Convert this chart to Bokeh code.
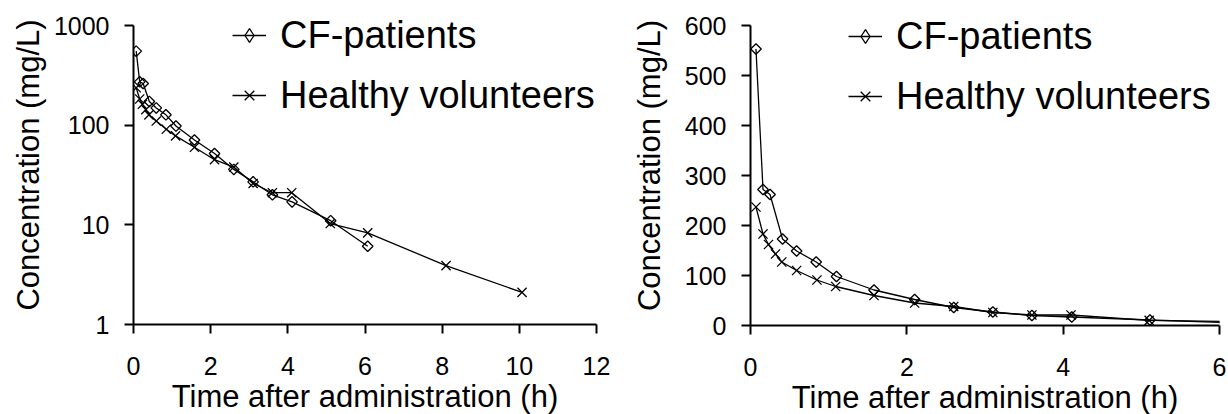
import math
from bokeh.plotting import figure
from bokeh.layouts import row
from bokeh.models import Legend, LegendItem, FixedTicker, Range1d
from bokeh.embed import file_html
from bokeh.resources import INLINE

# Data
cf_time = [0.07, 0.16, 0.25, 0.41, 0.59, 0.84, 1.10, 1.58, 2.10, 2.60, 3.10, 3.60, 4.11, 5.11, 6.07]
cf_conc = [553, 272, 262, 173, 149, 127, 98, 71, 52, 36, 27, 20, 17, 11, 6.1]

hv_time = [0.07, 0.16, 0.23, 0.32, 0.40, 0.59, 0.85, 1.09, 1.58, 2.10, 2.60, 3.10, 3.60, 4.10, 5.10, 6.07, 8.10, 10.07]
hv_conc = [237, 183, 162, 143, 127, 110, 91, 78, 60, 45, 38, 26, 21, 21, 10.3, 8.3, 3.9, 2.1]

cf_label = "CF-patients"
hv_label = "Healthy volunteers"
x_title = "Time after administration (h)"
y_title = "Concentration (mg/L)"

left_xticks = [0, 2, 4, 6, 8, 10, 12]
left_yticks = [1, 10, 100, 1000]
right_xticks = [0, 2, 4, 6]
right_yticks = [0, 100, 200, 300, 400, 500, 600]

FONT = "Liberation Sans"


def style(p, ylabel_standoff):
    p.xgrid.visible = False
    p.ygrid.visible = False
    p.outline_line_color = None
    p.background_fill_color = "white"
    p.border_fill_color = "white"
    for ax in (p.xaxis[0], p.yaxis[0]):
        ax.axis_line_width = 2
        ax.axis_line_color = "black"
        ax.major_tick_line_width = 2
        ax.major_tick_line_color = "black"
        ax.major_tick_out = 9
        ax.major_tick_in = 0
        ax.minor_tick_line_color = None
        ax.major_label_text_font = FONT
        ax.major_label_text_font_size = "25px"
        ax.major_label_text_color = "black"
        ax.axis_label_text_font = FONT
        ax.axis_label_text_font_size = "31px"
        ax.axis_label_text_font_style = "normal"
        ax.axis_label_text_color = "black"
    p.xaxis[0].major_label_standoff = 23
    p.xaxis[0].axis_label_standoff = 1
    p.yaxis[0].major_label_standoff = 15
    p.yaxis[0].axis_label_standoff = ylabel_standoff
    p.xaxis[0].axis_label = x_title
    p.yaxis[0].axis_label = y_title


def add_series(p, loc):
    l1 = p.line(cf_time, cf_conc, line_color="black", line_width=1.3)
    p.scatter(cf_time, cf_conc, marker="square", angle=math.pi / 4, size=7.5,
              line_color="black", line_width=1.3, fill_alpha=0)
    l2 = p.line(hv_time, hv_conc, line_color="black", line_width=1.3)
    m2 = p.scatter(hv_time, hv_conc, marker="x", size=13, line_color="black", line_width=1.3)
    # hidden diamond renderer used only for the legend symbol
    mg1 = p.scatter(cf_time, cf_conc, marker="diamond", size=13, line_color="black",
                    line_width=1.3, fill_alpha=0, visible=False)
    legend = Legend(items=[LegendItem(label=cf_label, renderers=[l1, mg1]),
                           LegendItem(label=hv_label, renderers=[l2, m2])],
                    location=loc)
    legend.inactive_fill_alpha = 0
    legend.label_text_font = FONT
    legend.label_text_font_size = "38px"
    legend.label_text_color = "black"
    legend.glyph_width = 34
    legend.glyph_height = 46
    legend.label_height = 46
    legend.label_standoff = 14
    legend.spacing = 14
    legend.padding = 0
    legend.margin = 0
    legend.border_line_color = None
    legend.background_fill_alpha = 0
    legend.click_policy = "none"
    p.add_layout(legend)


# left: log scale; frame extends 20px above the 1000 tick so the legend is not clipped
p1 = figure(frame_width=463, frame_height=319, x_range=Range1d(0, 12),
            y_range=Range1d(1, 10 ** (3 * 319 / 299)), y_axis_type="log",
            min_border_left=133, min_border_right=16, min_border_top=5,
            min_border_bottom=90, output_backend="svg", toolbar_location=None)
style(p1, 5)
p1.xaxis[0].ticker = FixedTicker(ticks=left_xticks)
p1.yaxis[0].ticker = FixedTicker(ticks=left_yticks)
p1.yaxis[0].bounds = (1, 1000)
p1.yaxis[0].major_label_overrides = {1: "1", 10: "10", 100: "100", 1000: "1000"}
add_series(p1, (99, 206))

p2 = figure(frame_width=469, frame_height=320, x_range=Range1d(0, 6),
            y_range=Range1d(0, 600 * 320 / 300),
            min_border_left=138, min_border_right=9, min_border_top=5,
            min_border_bottom=89, output_backend="svg", toolbar_location=None)
style(p2, 15)
p2.xaxis[0].ticker = FixedTicker(ticks=right_xticks)
p2.yaxis[0].ticker = FixedTicker(ticks=right_yticks)
p2.yaxis[0].bounds = (0, 600)
add_series(p2, (98, 206))

layout = row(p1, p2)
open("out.html", "w").write(file_html(layout, INLINE))
